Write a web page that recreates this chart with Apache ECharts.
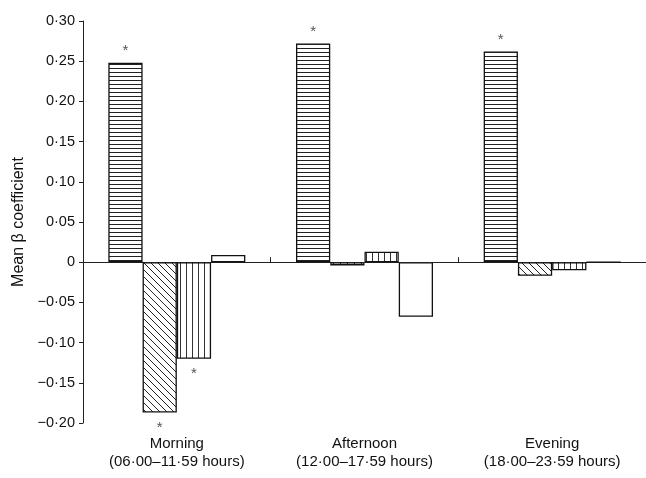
<!DOCTYPE html>
<html>
<head>
<meta charset="utf-8">
<script src="https://cdn.jsdelivr.net/npm/echarts@6/dist/echarts.min.js"></script>
<style>html,body{margin:0;padding:0;background:#fff}#c{width:646px;height:478px}</style>
</head>
<body>
<div id="c"></div>
<script>
var categories = ['Morning\n(06·00–11·59 hours)', 'Afternoon\n(12·00–17·59 hours)', 'Evening\n(18·00–23·59 hours)'];
var seriesA = [0.248, 0.272, 0.262];
var seriesB = [-0.187, -0.004, -0.017];
var seriesC = [-0.120, 0.013, -0.010];
var seriesD = [0.009, -0.068, 0];
var starsA = [true, true, true];
var starsB = [true, false, false];
var starsC = [true, false, false];
var yTicks = { min: -0.2, max: 0.3, interval: 0.05 };

function pattern(kind) {
  var c = document.createElement('canvas');
  var ctx;
  if (kind === 'h') {
    c.width = 8; c.height = 4; ctx = c.getContext('2d');
    ctx.fillStyle = '#fff'; ctx.fillRect(0, 0, 8, 4);
    ctx.strokeStyle = '#222'; ctx.lineWidth = 1;
    ctx.beginPath(); ctx.moveTo(0, 0.5); ctx.lineTo(8, 0.5); ctx.stroke();
  } else if (kind === 'd') {
    c.width = 7; c.height = 7; ctx = c.getContext('2d');
    ctx.fillStyle = '#fff'; ctx.fillRect(0, 0, 7, 7);
    ctx.strokeStyle = '#222'; ctx.lineWidth = 1;
    ctx.beginPath();
    ctx.moveTo(-1, -1); ctx.lineTo(8, 8);
    ctx.moveTo(-1, 6); ctx.lineTo(1, 8);
    ctx.moveTo(6, -1); ctx.lineTo(8, 1);
    ctx.stroke();
  } else if (kind === 'v') {
    c.width = 6; c.height = 4; ctx = c.getContext('2d');
    ctx.fillStyle = '#fff'; ctx.fillRect(0, 0, 6, 4);
    ctx.strokeStyle = '#333'; ctx.lineWidth = 1;
    ctx.beginPath(); ctx.moveTo(0.5, 0); ctx.lineTo(0.5, 4); ctx.stroke();
  }
  return { image: c, repeat: 'repeat' };
}

function withStars(values, stars) {
  return values.map(function (v, i) {
    if (!stars[i]) return v;
    return {
      value: v,
      label: {
        show: true,
        formatter: '*',
        position: v >= 0 ? 'top' : 'bottom',
        distance: v >= 0 ? 4 : 8,
        color: '#555',
        fontSize: 15,
        fontFamily: 'Liberation Sans'
      }
    };
  });
}

function fmt(v) {
  if (Math.abs(v) < 1e-9) return '0';
  return (v < 0 ? '−' : '') + Math.abs(v).toFixed(2).replace('.', '·');
}

var barBase = {
  type: 'bar',
  xAxisIndex: 0,
  barGap: '0%',
  barCategoryGap: '27%',
  animation: false,
  silent: true
};
function mk(name, data, fill) {
  return Object.assign({}, barBase, {
    name: name,
    data: data,
    itemStyle: { color: fill, borderColor: '#111', borderWidth: 1.3 }
  });
}

var chart = echarts.init(document.getElementById('c'), null, { renderer: 'canvas' });
chart.setOption({
  animation: false,
  textStyle: { fontFamily: 'Liberation Sans' },
  grid: { left: 83, right: 0, top: 21, bottom: 55 },
  xAxis: [{
    type: 'category',
    data: categories,
    axisLine: { onZero: true, lineStyle: { color: '#222', width: 1 } },
    axisTick: { show: true, inside: true, length: 5, lineStyle: { color: '#222' } },
    axisLabel: { show: false },
    splitLine: { show: false }
  }, {
    type: 'category',
    data: categories,
    position: 'bottom',
    axisLine: { show: false, onZero: false },
    axisTick: { show: false },
    axisLabel: { show: true, margin: 12, fontSize: 15, lineHeight: 18, color: '#111', fontFamily: 'Liberation Sans' },
    splitLine: { show: false }
  }],
  yAxis: {
    type: 'value',
    min: yTicks.min,
    max: yTicks.max,
    interval: yTicks.interval,
    name: 'Mean β coefficient',
    nameLocation: 'middle',
    nameGap: 56,
    nameTextStyle: { fontSize: 16, color: '#111', fontFamily: 'Liberation Sans' },
    axisLine: { show: true, lineStyle: { color: '#222', width: 1 } },
    axisTick: { show: true, length: 4, lineStyle: { color: '#222' } },
    axisLabel: { formatter: fmt, fontSize: 14.5, color: '#111', margin: 8, fontFamily: 'Liberation Sans' },
    splitLine: { show: false }
  },
  series: [
    mk('A', withStars(seriesA, starsA), pattern('h')),
    mk('B', withStars(seriesB, starsB), pattern('d')),
    mk('C', withStars(seriesC, starsC), pattern('v')),
    mk('D', seriesD, '#fff')
  ]
});
</script>
</body>
</html>
